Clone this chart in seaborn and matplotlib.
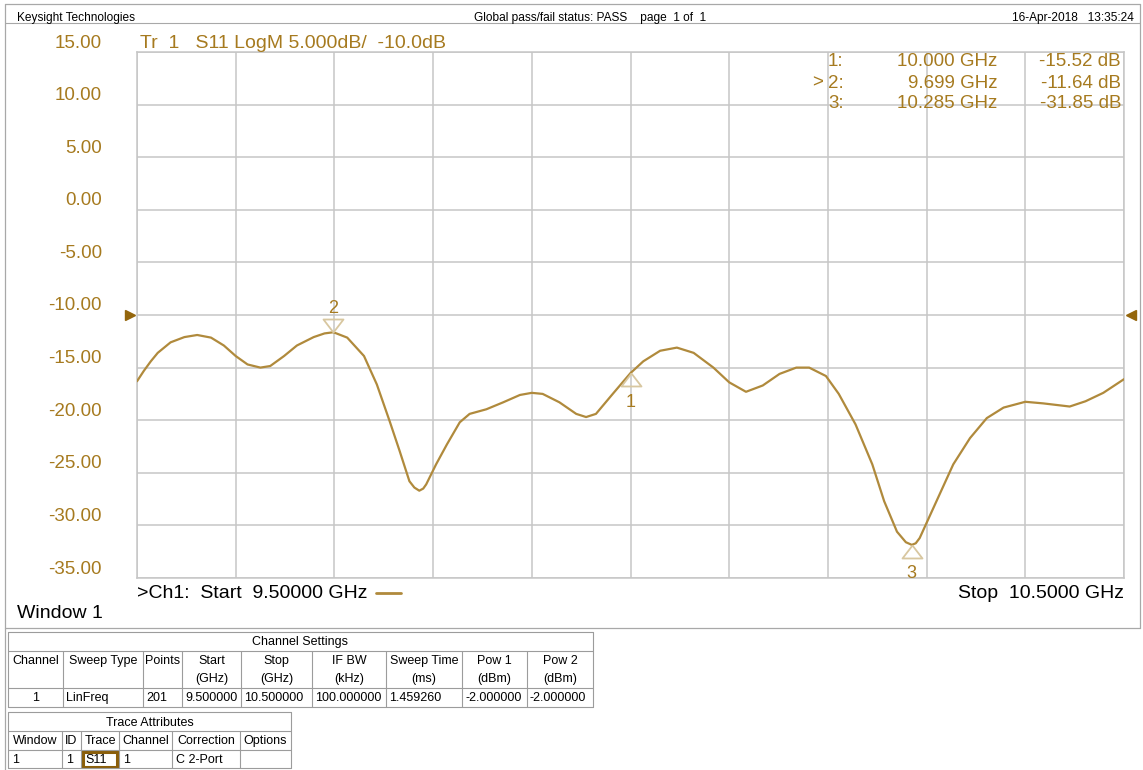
import matplotlib
matplotlib.use("Agg")
import matplotlib.pyplot as plt
import seaborn as sns
import pandas as pd
from matplotlib.lines import Line2D
from matplotlib.patches import Rectangle
from matplotlib.transforms import blended_transform_factory, offset_copy

# ---- S11 sweep, 9.5 - 10.5 GHz ----
freq_ghz = [
    9.500, 9.507, 9.514, 9.521, 9.534, 9.548, 9.561, 9.575, 9.588, 9.600, 9.612,
    9.625, 9.635, 9.649, 9.662, 9.679, 9.690, 9.699, 9.713, 9.730, 9.743,
    9.756, 9.766, 9.776, 9.781, 9.786, 9.790, 9.793, 9.803, 9.814, 9.827, 9.837, 9.854,
    9.871, 9.888, 9.900, 9.911, 9.928, 9.945, 9.955, 9.965, 9.982, 10.000,
    10.013, 10.030, 10.047, 10.064, 10.084, 10.100, 10.117, 10.134, 10.151, 10.168,
    10.181, 10.198, 10.211, 10.228, 10.245, 10.257, 10.270, 10.279, 10.285, 10.289, 10.293, 10.310,
    10.327, 10.344, 10.361, 10.378, 10.400, 10.418, 10.445, 10.461, 10.479, 10.500,
]
s11_db = [
    -16.3, -15.3, -14.4, -13.6, -12.6, -12.1, -11.9, -12.15, -12.9, -13.9, -14.7,
    -15.0, -14.85, -13.9, -12.9, -12.1, -11.75, -11.64, -12.15, -13.9, -16.6,
    -20.1, -22.9, -25.8, -26.4, -26.7, -26.5, -26.1, -24.2, -22.3, -20.2, -19.4, -18.96,
    -18.3, -17.6, -17.4, -17.5, -18.3, -19.4, -19.7, -19.4, -17.5, -15.52,
    -14.4, -13.4, -13.1, -13.6, -15.0, -16.4, -17.3, -16.7, -15.6, -15.0,
    -15.0, -15.8, -17.5, -20.4, -24.2, -27.7, -30.6, -31.6, -31.85, -31.7, -31.2, -27.7,
    -24.2, -21.7, -19.8, -18.8, -18.25, -18.4, -18.7, -18.2, -17.4, -16.1,
]

marker_ids = ["1", "2", "3"]
marker_freq = [10.000, 9.699, 10.285]
marker_db = [-15.52, -11.64, -31.85]
active_marker = "2"

y_ticks = [15, 10, 5, 0, -5, -10, -15, -20, -25, -30, -35]
x_ticks = [9.5, 9.6, 9.7, 9.8, 9.9, 10.0, 10.1, 10.2, 10.3, 10.4, 10.5]
ref_level = -10.0

trace_title = "Tr  1   S11 LogM 5.000dB/  -10.0dB"
header_left = "Keysight Technologies"
header_mid = "Global pass/fail status: PASS    page  1 of  1"
header_right = "16-Apr-2018   13:35:24"

# Channel settings table
ch_title = "Channel Settings"
ch_cols = [8, 63, 143, 182, 241, 312, 386, 462, 527, 593]
ch_rows = [632, 651, 688, 707]
ch_head1 = ["Channel", "Sweep Type", "Points", "Start", "Stop", "IF BW", "Sweep Time", "Pow 1", "Pow 2"]
ch_head2 = ["", "", "", "(GHz)", "(GHz)", "(kHz)", "(ms)", "(dBm)", "(dBm)"]
ch_data = ["1", "LinFreq", "201", "9.500000", "10.500000", "100.000000", "1.459260", "-2.000000", "-2.000000"]

# Trace attributes table
tr_title = "Trace Attributes"
tr_cols = [8, 62, 81, 119, 172, 240, 291]
tr_rows = [712, 731, 750, 768]
tr_head = ["Window", "ID", "Trace", "Channel", "Correction", "Options"]
tr_data = ["1", "1", "S11", "1", "C 2-Port", ""]

# ---- styling ----
W, H = 1143, 770
GOLD = "#A67A1F"
TRACE = "#B08A3C"
REF = "#94660C"
MKR = "#D8C7A0"
GRID = "#C6C6C6"
FRAME = "#A8A8A8"

sns.set_theme(style="white")
plt.rcParams["font.family"] = ["Liberation Sans", "DejaVu Sans"]

fig = plt.figure(figsize=(W / 100, H / 100), dpi=100)
fig.patch.set_facecolor("white")


def fx(x):
    return x / W


def fy(y):
    return 1 - y / H


def hline(x0, x1, y, color=FRAME, lw=0.9):
    fig.add_artist(Line2D([fx(x0), fx(x1)], [fy(y), fy(y)], color=color, lw=lw,
                          transform=fig.transFigure))


def vline(x, y0, y1, color=FRAME, lw=0.9):
    fig.add_artist(Line2D([fx(x), fx(x)], [fy(y0), fy(y1)], color=color, lw=lw,
                          transform=fig.transFigure))


def ftext(x, y, s, size, color="black", ha="left"):
    fig.text(fx(x), fy(y), s, fontsize=size, color=color, ha=ha, va="center")


# page frame and header
hline(5, 1140, 4)
vline(5, 4, 770)
vline(1140, 4, 628)
hline(5, 1140, 23, lw=0.8)
hline(5, 1140, 628)
ftext(17, 18, header_left, 8.6)
ftext(590, 18, header_mid, 8.6, ha="center")
ftext(1134, 18, header_right, 8.6, ha="right")

# ---- measurement window ----
x_left, x_right, y_top, y_bot = 137, 1124, 52, 578
ax = fig.add_axes([fx(x_left), fy(y_bot), (x_right - x_left) / W, (y_bot - y_top) / H])
ax.set_facecolor("white")

df = pd.DataFrame({"freq": freq_ghz, "s11": s11_db})
sns.lineplot(data=df, x="freq", y="s11", ax=ax, color=TRACE, lw=1.6, zorder=4)
for ln in ax.get_lines():
    ln.set_solid_joinstyle("round")

ax.set_xlim(9.5, 10.5)
ax.set_ylim(-35, 15)
ax.set_xticks(x_ticks)
ax.set_yticks(y_ticks)
ax.grid(True, color=GRID, lw=1.1)
ax.tick_params(length=0, labelbottom=False, labelleft=False)
ax.set_xlabel("")
ax.set_ylabel("")
for sp in ax.spines.values():
    sp.set_color(GRID)
    sp.set_linewidth(1.1)

# scale labels sit just above their graticule lines
ylab_tr = offset_copy(blended_transform_factory(ax.transAxes, ax.transData), fig=fig, y=9, units="dots")
for v in y_ticks:
    ax.text((102 - x_left) / (x_right - x_left), v, f"{v:.2f}", transform=ylab_tr,
            ha="right", va="center", fontsize=13.5, color=GOLD, clip_on=False)

ax.text(0.003, 1.0, trace_title, transform=offset_copy(ax.transAxes, fig=fig, y=9, units="dots"),
        ha="left", va="center", fontsize=14, color=GOLD, clip_on=False)

# reference level arrows
ref_tr = blended_transform_factory(ax.transAxes, ax.transData)
ax.plot([-0.0075], [ref_level], marker=">", ms=7, color=REF, transform=ref_tr, clip_on=False)
ax.plot([1.0075], [ref_level], marker="<", ms=7, color=REF, transform=ref_tr, clip_on=False)

# markers
tri_down = [(0, 0), (-10, 13), (10, 13), (0, 0)]
tri_up = [(0, 0), (-10, -13), (10, -13), (0, 0)]
for mid, mf, md in zip(marker_ids, marker_freq, marker_db):
    above = mid == active_marker
    ax.plot([mf], [md], marker=tri_down if above else tri_up, ms=18.7, mfc="none",
            mec=MKR, mew=1.3, ls="none", zorder=5, clip_on=False)
    dy = 24 if above else -29
    ax.text(mf, md, mid, transform=offset_copy(ax.transData, fig=fig, y=dy, units="dots"),
            ha="center", va="center", fontsize=13, color=GOLD, zorder=6, clip_on=False)

# marker readout
row_y = [62, 83, 104]
for ry, mid, mf, md in zip(row_y, marker_ids, marker_freq, marker_db):
    if mid == active_marker:
        ftext(812, ry, ">", 13.5, GOLD)
    ftext(828, ry, f"{mid}:", 13.5, GOLD)
    ftext(997, ry, f"{mf:.3f} GHz", 13.5, GOLD, ha="right")
    ftext(1121, ry, f"{md:.2f} dB", 13.5, GOLD, ha="right")

# channel annotation
ftext(137, 593, ">Ch1:  Start  9.50000 GHz", 14)
fig.add_artist(Line2D([fx(376), fx(401)], [fy(593), fy(593)], color=TRACE, lw=2,
                      transform=fig.transFigure))
ftext(1124, 593, "Stop  10.5000 GHz", 14, ha="right")
ftext(17, 613, "Window 1", 14)

# ---- tables ----
TS = 9.0
TL = "#9C9C9C"


def draw_grid(cols, rows, title):
    for y in rows:
        hline(cols[0], cols[-1], y, color=TL, lw=0.8)
    vline(cols[0], rows[0], rows[-1], color=TL, lw=0.8)
    vline(cols[-1], rows[0], rows[-1], color=TL, lw=0.8)
    for x in cols[1:-1]:
        vline(x, rows[1], rows[-1], color=TL, lw=0.8)
    ftext((cols[0] + cols[-1]) / 2, (rows[0] + rows[1]) / 2 + 1, title, TS, ha="center")


draw_grid(ch_cols, ch_rows, ch_title)
for i, (h1, h2, d) in enumerate(zip(ch_head1, ch_head2, ch_data)):
    cx = (ch_cols[i] + ch_cols[i + 1]) / 2
    ftext(cx, 661, h1, TS, ha="center")
    if h2:
        ftext(cx, 679, h2, TS, ha="center")
    if i == 0:
        ftext(cx, 698, d, TS, ha="center")
    else:
        ftext(ch_cols[i] + 3, 698, d, TS)

draw_grid(tr_cols, tr_rows, tr_title)
for i, (h, d) in enumerate(zip(tr_head, tr_data)):
    cx = (tr_cols[i] + tr_cols[i + 1]) / 2
    ftext(cx, 741, h, TS, ha="center")
    ftext(tr_cols[i] + 4, 760, d, TS)
fig.add_artist(Rectangle((fx(83), fy(767)), (117 - 83) / W, (767 - 752) / H, fill=False,
                         ec="#8A5E0A", lw=2.2, transform=fig.transFigure))

fig.savefig("out.png", dpi=100, facecolor="white")
